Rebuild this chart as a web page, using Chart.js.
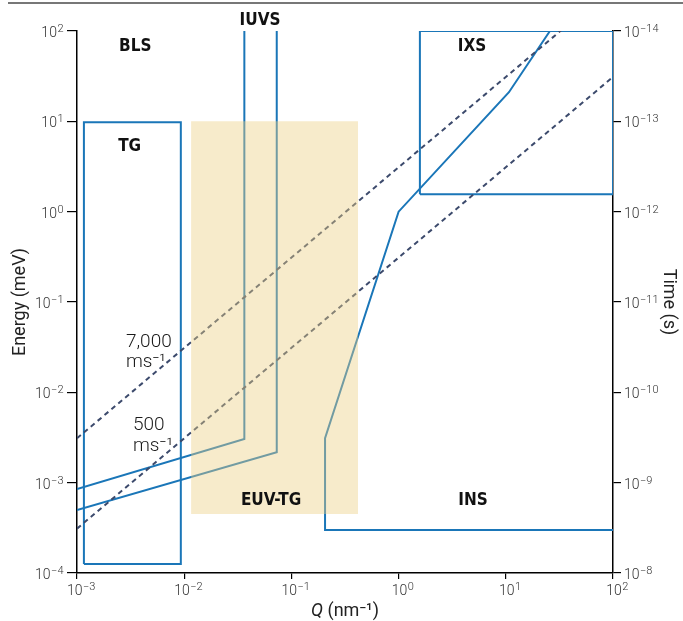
<!DOCTYPE html>
<html>
<head>
<meta charset="utf-8">
<script src="https://cdn.jsdelivr.net/npm/chart.js@4.4.1/dist/chart.umd.min.js"></script>
<style>
  body { margin: 0; background: #fff; }
  #wrap { width: 683px; height: 621px; position: relative; }
</style>
</head>
<body>
<div id="wrap"><canvas id="chart"></canvas></div>
<script>
// axis ticks (decades)
const qTicks = [1e-3, 1e-2, 1e-1, 1, 10, 100];
const energyTicks = [1e-4, 1e-3, 1e-2, 1e-1, 1, 10, 100];
const timeTicks = [1e-14, 1e-13, 1e-12, 1e-11, 1e-10, 1e-9, 1e-8];

// boxes: [min, max]
const tgQ = [1.16e-3, 9.3e-3];
const tgE = [1.26e-4, 9.8];
const euvQ = [0.0116, 0.418];
const euvE = [4.5e-4, 10];
const ixsQ = [1.58, 100];
const ixsE = [1.56, 100];

// region boundaries (polylines)
const iuvsLeftQ = [1e-3, 0.0364, 0.0364];
const iuvsLeftE = [8.5e-4, 3.04e-3, 100];
const iuvsRightQ = [1e-3, 0.073, 0.073];
const iuvsRightE = [4.98e-4, 2.17e-3, 100];
const insQ = [100, 0.206, 0.206, 1.0, 10.7, 25.8];
const insE = [3.0e-4, 3.0e-4, 3.1e-3, 1.0, 21, 100];

// sound-speed dashed lines
const speedQ = [1e-3, 100];
const speed7000E = [3.1e-3, 310];
const speed500E = [3.1e-4, 31];

// text labels
const regionNames = ["BLS", "IUVS", "IXS", "TG", "EUV-TG", "INS"];
const regionQ = [3.5e-3, 0.051, 4.84, 3.1e-3, 0.0646, 4.94];
const regionE = [68, 132, 68, 5.3, 6.4e-4, 6.4e-4];
const speedNames = ["7,000", "500"];
const speedLabelQ = [2.86e-3, 3.33e-3];
const speedLabelE = [0.036, 4.35e-3];
const speedUnitE = [0.0217, 2.55e-3];

const BLUE = "#1a76b8";
const DASH = "#3c4a6c";

const zip = (xs, ys) => xs.map((x, i) => ({ x: x, y: ys[i] }));
const box = (qs, es) => zip([qs[0], qs[1], qs[1], qs[0], qs[0]], [es[0], es[0], es[1], es[1], es[0]]);

function lineSet(data, extra) {
  return Object.assign({
    data: data,
    showLine: true,
    borderColor: BLUE,
    borderWidth: 2,
    pointRadius: 0,
    tension: 0,
    fill: false,
    order: 2,
  }, extra || {});
}

const titleFont = { family: "Roboto", size: 18, weight: 400 };

// "10" with a raised exponent
function drawPow(ctx, v, x, y, align) {
  const exp = Math.round(Math.log10(v));
  const expText = (exp < 0 ? "\u2212" : "") + Math.abs(exp);
  ctx.font = "300 14px Roboto";
  const w1 = ctx.measureText("10").width;
  ctx.font = "300 11px Roboto";
  const w2 = ctx.measureText(expText).width;
  let x0 = x;
  if (align === "right") x0 = x - w1 - w2;
  if (align === "center") x0 = x - (w1 + w2) / 2;
  ctx.font = "300 14px Roboto";
  ctx.fillText("10", x0, y);
  ctx.font = "300 11px Roboto";
  ctx.fillText(expText, x0 + w1 + 0.5, y - 5);
}

const labelsPlugin = {
  id: "labels",
  beforeDraw(chart) {
    const ctx = chart.ctx;
    ctx.save();
    ctx.strokeStyle = "#777";
    ctx.lineWidth = 2;
    ctx.beginPath();
    ctx.moveTo(8, 3);
    ctx.lineTo(683, 3);
    ctx.stroke();
    ctx.restore();
  },
  afterDatasetsDraw(chart) {
    const ctx = chart.ctx;
    const xs = chart.scales.x;
    const ys = chart.scales.y;
    ctx.save();
    ctx.fillStyle = "#111";
    ctx.textBaseline = "middle";
    ctx.textAlign = "center";
    ctx.font = "bold 17px 'Liberation Sans Narrow', 'DejaVu Sans Condensed', 'Liberation Sans'";
    regionNames.forEach((name, i) => {
      ctx.fillText(name, xs.getPixelForValue(regionQ[i]), ys.getPixelForValue(regionE[i]));
    });
    ctx.fillStyle = "#1a1a1a";
    ctx.textAlign = "left";
    ctx.font = "300 19px Roboto";
    speedNames.forEach((name, i) => {
      const px = xs.getPixelForValue(speedLabelQ[i]);
      ctx.fillText(name, px, ys.getPixelForValue(speedLabelE[i]));
      ctx.fillText("ms⁻¹", px, ys.getPixelForValue(speedUnitE[i]));
    });
    ctx.restore();
  },
  afterDraw(chart) {
    const ctx = chart.ctx;
    const { x, y, y2 } = chart.scales;
    ctx.save();
    ctx.fillStyle = "#333";
    ctx.textAlign = "left";
    ctx.textBaseline = "alphabetic";
    energyTicks.forEach((v) => drawPow(ctx, v, 63, y.getPixelForValue(v) + 6, "right"));
    timeTicks.forEach((v) => drawPow(ctx, v, 624, y2.getPixelForValue(v) + 6, "left"));
    qTicks.forEach((v) => drawPow(ctx, v, x.getPixelForValue(v) + 4, 595, "center"));

    // x-axis title with italic Q
    ctx.fillStyle = "#222";
    ctx.textBaseline = "middle";
    const cx = (x.left + x.right) / 2;
    ctx.font = "italic 400 18px Roboto";
    const wq = ctx.measureText("Q").width;
    ctx.font = "400 18px Roboto";
    const rest = " (nm⁻¹)";
    const wr = ctx.measureText(rest).width;
    const x0 = cx - (wq + wr) / 2;
    ctx.font = "italic 400 18px Roboto";
    ctx.fillText("Q", x0, 611);
    ctx.font = "400 18px Roboto";
    ctx.fillText(rest, x0 + wq, 611);
    ctx.restore();
  },
};

new Chart(document.getElementById("chart"), {
  type: "scatter",
  data: {
    datasets: [
      {
        data: box(euvQ, euvE),
        showLine: true,
        borderWidth: 0,
        borderColor: "rgba(0,0,0,0)",
        backgroundColor: "rgba(236,208,130,0.42)",
        pointRadius: 0,
        fill: "shape",
        order: 0,
      },
      lineSet(zip(speedQ, speed7000E), { borderColor: DASH, borderDash: [5, 4], order: 1 }),
      lineSet(zip(speedQ, speed500E), { borderColor: DASH, borderDash: [5, 4], order: 1 }),
      lineSet(box(tgQ, tgE)),
      lineSet(box(ixsQ, ixsE)),
      lineSet(zip(iuvsLeftQ, iuvsLeftE)),
      lineSet(zip(iuvsRightQ, iuvsRightE)),
      lineSet(zip(insQ, insE)),
    ],
  },
  options: {
    responsive: true,
    maintainAspectRatio: false,
    animation: false,
    layout: { padding: { top: 31, left: 0, right: 0, bottom: 0 } },
    plugins: {
      legend: { display: false },
      tooltip: { enabled: false },
    },
    scales: {
      x: {
        type: "logarithmic",
        position: "bottom",
        min: 1e-3,
        max: 100,
        afterBuildTicks: (a) => { a.ticks = qTicks.map((v) => ({ value: v })); },
        afterFit: (s) => { s.height = 48; },
        ticks: { display: false },
        grid: { drawOnChartArea: false, tickLength: 6, color: "#000", lineWidth: 1.2 },
        border: { color: "#000", width: 1.5 },
        title: { display: false },
      },
      y: {
        type: "logarithmic",
        position: "left",
        min: 1e-4,
        max: 100,
        afterBuildTicks: (a) => { a.ticks = energyTicks.map((v) => ({ value: v })); },
        afterFit: (s) => { s.width = 77; },
        ticks: { display: false },
        grid: { drawOnChartArea: false, tickLength: 10, color: "#000", lineWidth: 1.2 },
        border: { color: "#000", width: 1.5 },
        title: { display: true, text: "Energy (meV)", font: titleFont, color: "#222", padding: { top: 10, bottom: 0 } },
      },
      y2: {
        type: "logarithmic",
        position: "right",
        reverse: true,
        min: 1e-14,
        max: 1e-8,
        afterBuildTicks: (a) => { a.ticks = timeTicks.map((v) => ({ value: v })); },
        afterFit: (s) => { s.width = 70; },
        ticks: { display: false },
        grid: { drawOnChartArea: false, tickLength: 8, color: "#000", lineWidth: 1.2 },
        border: { color: "#000", width: 1.5 },
        title: { display: true, text: "Time (s)", font: titleFont, color: "#222", padding: { top: 4, bottom: 0 } },
      },
    },
  },
  plugins: [labelsPlugin],
});
</script>
</body>
</html>
